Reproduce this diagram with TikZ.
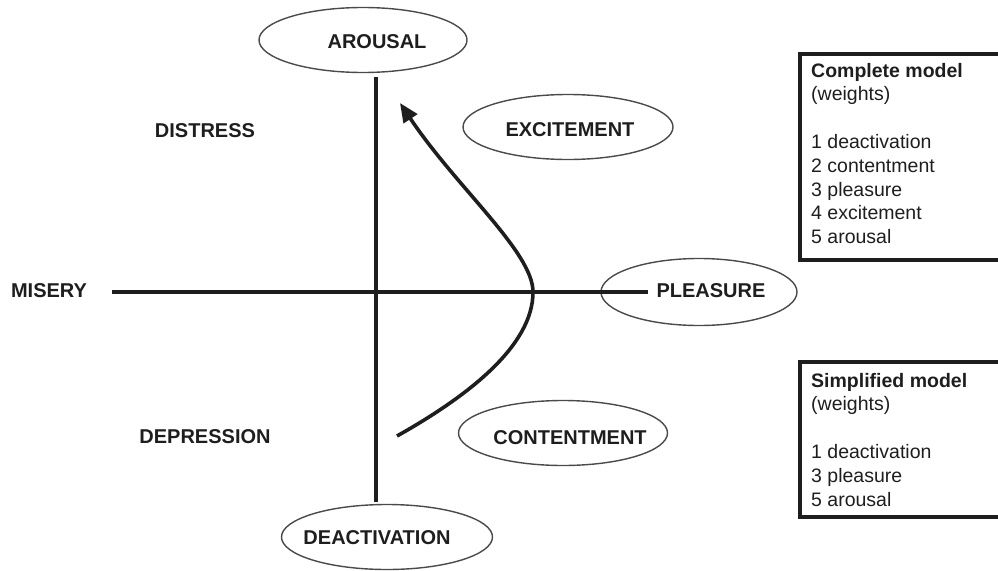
\documentclass[tikz,border=0pt]{standalone}
\usepackage{fontspec}
\setmainfont{Liberation Sans}
\usetikzlibrary{shapes.geometric,arrows.meta}
\definecolor{ink}{HTML}{1E1E1E}
\definecolor{rim}{HTML}{4A4A4A}
\tikzset{
  oval/.style={ellipse, draw=rim, line width=1.4pt, inner sep=0pt},
  lbl/.style={font=\fontsize{20}{24}\selectfont\bfseries, text=ink, inner sep=0pt},
  axis/.style={draw=ink, line width=3.6pt},
  trend/.style={draw=ink, line width=3.6pt, -{Triangle[length=19pt,width=16pt]}},
  panel/.style={draw=ink, line width=4pt},
  paneltext/.style={font=\fontsize{19.5}{23.8}\selectfont, text=ink, align=left, inner sep=0pt, anchor=north west}
}
\begin{document}
\begin{tikzpicture}[x=1pt, y=-1pt]
\useasboundingbox (0,0) rectangle (998,570);
\clip (0,0) rectangle (998,570);

% ellipses of the circumplex
\node[oval, minimum width=208pt, minimum height=65pt] (arousal) at (363,40) {};
\node[oval, minimum width=210pt, minimum height=65pt] (excite) at (568,127) {};
\node[oval, minimum width=196pt, minimum height=67pt] (pleasure) at (699,292) {};
\node[oval, minimum width=209pt, minimum height=65pt] (content) at (563,433) {};
\node[oval, minimum width=211pt, minimum height=65pt] (deact) at (387,537) {};

% axes
\coordinate (ytop) at (376,77);
\coordinate (ybot) at (376,502);
\coordinate (xleft) at (112,292);
\coordinate (xright) at (648,292);
\draw[axis] (ytop) -- (ybot);
\draw[axis] (xleft) -- (xright);

% labels
\node[lbl] (arousalT) at (377,42) {AROUSAL};
\node[lbl] (exciteT) at (570,130) {EXCITEMENT};
\node[lbl] (pleasureT) at (711,291) {PLEASURE};
\node[lbl] (contentT) at (570,438) {CONTENTMENT};
\node[lbl] (deactT) at (377,538) {DEACTIVATION};
\node[lbl] (distress) at (205,131) {DISTRESS};
\node[lbl] (misery) at (49,291) {MISERY};
\node[lbl] (depression) at (205,437) {DEPRESSION};

% trajectory through the quadrants
\coordinate (cstart) at (397,436);
\coordinate (cmid) at (533,292);
\coordinate (cend) at (400,103);
\draw[trend] (cstart) .. controls (470,395) and (533,345) .. (cmid)
  .. controls (533,252) and (456,187) .. (cend);

% weight panels
\draw[panel] (800,54) rectangle (1010,260);
\node[paneltext] (complete) at (811,62.8) {\textbf{Complete model}\\(weights)\\[23.8pt]1 deactivation\\2 contentment\\3 pleasure\\4 excitement\\5 arousal};
\draw[panel] (800,362) rectangle (1010,517);
\node[paneltext] (simplified) at (811,372.8) {\textbf{Simplified model}\\(weights)\\[23.8pt]1 deactivation\\3 pleasure\\5 arousal};
\end{tikzpicture}
\end{document}
